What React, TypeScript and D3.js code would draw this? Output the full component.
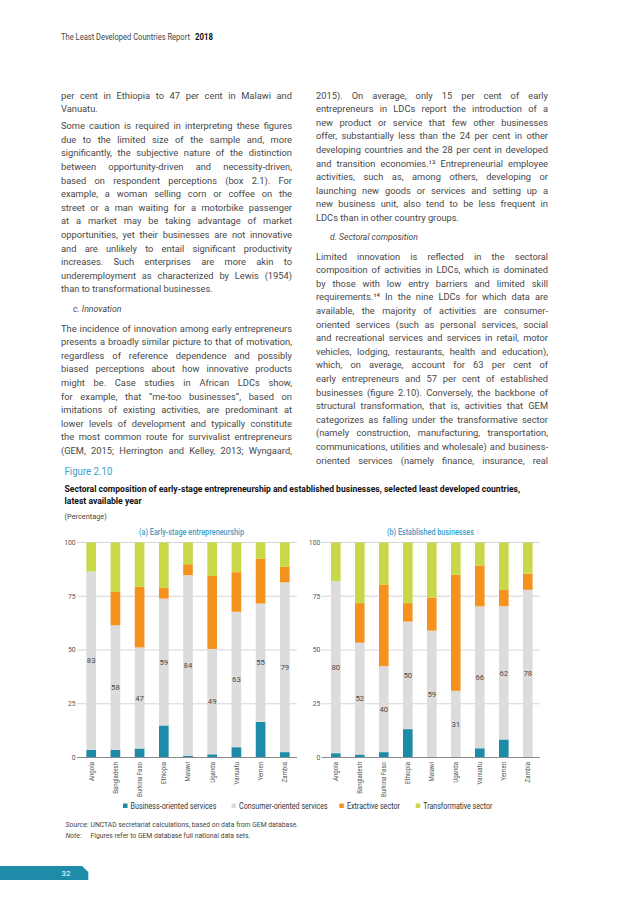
import React from "react";
import * as d3 from "d3";

// ---------- chart data ----------
const countries = ["Angola", "Bangladesh", "Burkina Faso", "Ethiopia", "Malawi", "Uganda", "Vanuatu", "Yemen", "Zambia"];
const sectorKeys = ["business", "consumer", "extractive", "transformative"];
const sectorLabels = ["Business-oriented services", "Consumer-oriented services", "Extractive sector", "Transformative sector"];
const sectorColors = ["#1e8ca8", "#dcdcdc", "#f5921e", "#c8d848"];

const earlyBusiness = [3.5, 3.5, 4.2, 14.9, 0.8, 1.5, 4.8, 16.6, 2.5];
const earlyConsumer = [83, 58, 47, 59, 84, 49, 63, 55, 79];
const earlyExtractive = [0, 15.5, 28.2, 5.0, 5.1, 33.9, 18.4, 20.8, 7.2];
const earlyTransformative = [13.5, 23.0, 20.6, 21.1, 10.1, 15.6, 13.8, 7.6, 11.3];

const estBusiness = [2.0, 1.4, 2.5, 13.2, 0, 0, 4.3, 8.4, 0];
const estConsumer = [80, 52, 40, 50, 59, 31, 66, 62, 78];
const estExtractive = [0, 18.4, 38.0, 8.6, 15.4, 54.0, 19.0, 7.5, 7.5];
const estTransformative = [18.0, 28.2, 19.5, 28.2, 25.6, 15.0, 10.7, 22.1, 14.5];

const yTicks = [0, 25, 50, 75, 100];

// ---------- page text ----------
const leftP1 = [
  "per cent in Ethiopia to 47 per cent in Malawi and",
  "Vanuatu.",
];
const leftP2 = [
  "Some caution is required in interpreting these figures",
  "due to the limited size of the sample and, more",
  "significantly, the subjective nature of the distinction",
  "between opportunity-driven and necessity-driven,",
  "based on respondent perceptions (box 2.1). For",
  "example, a woman selling corn or coffee on the",
  "street or a man waiting for a motorbike passenger",
  "at a market may be taking advantage of market",
  "opportunities, yet their businesses are not innovative",
  "and are unlikely to entail significant productivity",
  "increases. Such enterprises are more akin to",
  "underemployment as characterized by Lewis (1954)",
  "than to transformational businesses.",
];
const leftP3 = [
  "The incidence of innovation among early entrepreneurs",
  "presents a broadly similar picture to that of motivation,",
  "regardless of reference dependence and possibly",
  "biased perceptions about how innovative products",
  "might be. Case studies in African LDCs show,",
  "for example, that \u201cme-too businesses\u201d, based on",
  "imitations of existing activities, are predominant at",
  "lower levels of development and typically constitute",
  "the most common route for survivalist entrepreneurs",
  "(GEM, 2015; Herrington and Kelley, 2013; Wyngaard,",
];
const rightP1 = [
  "2015). On average, only 15 per cent of early",
  "entrepreneurs in LDCs report the introduction of a",
  "new product or service that few other businesses",
  "offer, substantially less than the 24 per cent in other",
  "developing countries and the 28 per cent in developed",
  "and transition economies.\u00b9\u00b3 Entrepreneurial employee",
  "activities, such as, among others, developing or",
  "launching new goods or services and setting up a",
  "new business unit, also tend to be less frequent in",
  "LDCs than in other country groups.",
];
const rightP2 = [
  "Limited innovation is reflected in the sectoral",
  "composition of activities in LDCs, which is dominated",
  "by those with low entry barriers and limited skill",
  "requirements.\u00b9\u2074 In the nine LDCs for which data are",
  "available, the majority of activities are consumer-",
  "oriented services (such as personal services, social",
  "and recreational services and services in retail, motor",
  "vehicles, lodging, restaurants, health and education),",
  "which, on average, account for 63 per cent of",
  "early entrepreneurs and 57 per cent of established",
  "businesses (figure 2.10). Conversely, the backbone of",
  "structural transformation, that is, activities that GEM",
  "categorizes as falling under the transformative sector",
  "(namely construction, manufacturing, transportation,",
  "communications, utilities and wholesale) and business-",
  "oriented services (namely finance, insurance, real",
];

const BODY_SIZE = 9.3;
const BODY_FONT = "Roboto";
const BODY_WEIGHT = 400;
const LINE = 13.6;
const TEAL = "#1e8ca8";
const BLUE_TITLE = "#3a9ec8";

let ctx: CanvasRenderingContext2D | null = null;
function measureFont(s: string, font: string, size: number): number {
  if (!ctx && typeof document !== "undefined") {
    ctx = document.createElement("canvas").getContext("2d");
  }
  if (!ctx) return s.length * size * 0.5;
  ctx.font = font;
  return ctx.measureText(s).width;
}
function measure(s: string): number {
  return measureFont(s, `${BODY_WEIGHT} ${BODY_SIZE}px ${BODY_FONT}`, BODY_SIZE);
}

// text compressed horizontally to a target width via a transform
function FitText({ x, y, width, size, weight = 400, italic = false, fill, children }: any) {
  const font = `${italic ? "italic " : ""}${weight} ${size}px Roboto`;
  const nat = measureFont(children, font, size);
  const sx = nat > 0 ? width / nat : 1;
  return (
    <text transform={`translate(${x},${y}) scale(${sx},1)`} fontFamily="Roboto" fontSize={size}
      fontWeight={weight} fontStyle={italic ? "italic" : "normal"} fill={fill}>{children}</text>
  );
}

function BodyLine({ text, x, y, width, justify }: { text: string; x: number; y: number; width: number; justify: boolean }) {
  if (!justify) {
    return <text x={x} y={y}>{text}</text>;
  }
  const nat = measure(text);
  const spaces = (text.match(/ /g) || []).length;
  const extra = width - nat;
  if (spaces > 0 && extra >= -spaces * 0.6) {
    return <text x={x} y={y} style={{ wordSpacing: `${extra / spaces}px` }}>{text}</text>;
  }
  return <text x={x} y={y} textLength={width} lengthAdjust="spacingAndGlyphs">{text}</text>;
}

function Paragraph({ lines, x, y0, width, lastJustified }: { lines: string[]; x: number; y0: number; width: number; lastJustified: boolean }) {
  return (
    <g>
      {lines.map((l, i) => (
        <BodyLine key={i} text={l} x={x} y={y0 + i * LINE} width={width}
          justify={i < lines.length - 1 || lastJustified} />
      ))}
    </g>
  );
}

function Panel({ values, x0, x1, title, titleX, titleW }: { values: number[][]; x0: number; x1: number; title: string; titleX: number; titleW: number }) {
  const rows = countries.map((c, i) => {
    const r: any = { country: c };
    sectorKeys.forEach((k, j) => (r[k] = values[j][i]));
    return r;
  });
  const x = d3.scaleBand<string>().domain(countries).range([x0, x1]).paddingInner(0.6).paddingOuter(0.3);
  const y = d3.scaleLinear().domain([0, 100]).range([757.5, 542.5]);
  const series = d3.stack<any>().keys(sectorKeys)(rows);
  const bw = x.bandwidth();
  return (
    <g>
      <FitText x={titleX} y={534.5} width={titleW} size={8.6} weight={500} fill={BLUE_TITLE}>{title}</FitText>
      {yTicks.map((t) => (
        <g key={t}>
          <line x1={x0 - 2} x2={x1} y1={y(t)} y2={y(t)} stroke={t === 0 ? "#8a8a8a" : "#c4c4c4"} strokeWidth={t === 0 ? 1.2 : 0.7} />
          <text x={x0 - 3.5} y={y(t)} dy="0.35em" textAnchor="end" fontFamily="Roboto" fontSize={6.8} fill="#555">{t}</text>
        </g>
      ))}
      {series.map((s, si) => (
        <g key={s.key} fill={sectorColors[si]}>
          {s.map((d: any) => (
            <rect key={d.data.country} x={x(d.data.country)} y={y(d[1])} width={bw}
              height={Math.max(0, y(d[0]) - y(d[1]))} />
          ))}
        </g>
      ))}
      <line x1={x0 - 2} x2={x1} y1={y(0)} y2={y(0)} stroke="#8a8a8a" strokeWidth={1.2} />
      {series[1].map((d: any, i: number) => (
        <text key={i} x={(x(d.data.country) as number) + bw / 2} y={y((d[0] + d[1]) / 2)} dy="0.35em"
          textAnchor="middle" fontFamily="Roboto" fontSize={7.8} fill="#4a4a4a">{values[1][i]}</text>
      ))}
      {countries.map((c) => (
        <text key={c} transform={`translate(${(x(c) as number) + bw / 2},762) rotate(-90) scale(0.87,1)`}
          dy="0.35em" textAnchor="end" fontFamily="Roboto" fontSize={7} fill="#555">{c}</text>
      ))}
    </g>
  );
}

const legendX = [123, 231.5, 339.3, 415.7];
const legendTextW = [85.7, 88.5, 53, 68.8];

export default function App() {
  return (
    <svg width={640} height={905} style={{ position: "absolute", left: 0, top: 0, background: "#fff" }}>
      <rect width={640} height={905} fill="#fff" />
      {/* header */}
      <FitText x={61} y={40} width={129} size={8.6} fill="#444">The Least Developed Countries Report</FitText>
      <FitText x={195} y={40} width={18} size={8.6} weight={700} fill="#111">2018</FitText>

      {/* body text */}
      <g fontFamily={BODY_FONT} fontSize={BODY_SIZE} fontWeight={BODY_WEIGHT} fill="#484848">
        <Paragraph lines={leftP1} x={61} y0={98.5} width={231} lastJustified={false} />
        <Paragraph lines={leftP2} x={61} y0={129.1} width={231} lastJustified={false} />
        <Paragraph lines={leftP3} x={61} y0={331.6} width={231} lastJustified={true} />
        <Paragraph lines={rightP1} x={316} y0={98.5} width={232} lastJustified={false} />
        <Paragraph lines={rightP2} x={316} y0={259.5} width={232} lastJustified={true} />
      </g>
      <FitText x={73} y={311.5} width={48.5} size={BODY_SIZE} italic fill="#484848">c. Innovation</FitText>
      <FitText x={330} y={239.5} width={88} size={BODY_SIZE} italic fill="#484848">d. Sectoral composition</FitText>

      {/* figure heading */}
      <FitText x={64.5} y={474.5} width={48} size={10.5} fill={BLUE_TITLE}>Figure 2.10</FitText>
      <FitText x={64.5} y={491.5} width={454.5} size={9.4} weight={700} fill="#111">Sectoral composition of early-stage entrepreneurship and established businesses, selected least developed countries,</FitText>
      <FitText x={64.5} y={504} width={77} size={9.4} weight={700} fill="#111">latest available year</FitText>
      <FitText x={64.5} y={518.5} width={42.4} size={8} fill="#444">(Percentage)</FitText>

      <Panel values={[earlyBusiness, earlyConsumer, earlyExtractive, earlyTransformative]} x0={79.1} x1={296.9}
        title="(a) Early-stage entrepreneurship" titleX={139} titleW={105} />
      <Panel values={[estBusiness, estConsumer, estExtractive, estTransformative]} x0={323.8} x1={539.8}
        title="(b) Established businesses" titleX={387} titleW={87} />

      {/* legend */}
      {sectorLabels.map((l, i) => (
        <g key={l}>
          <rect x={legendX[i]} y={803.5} width={4.5} height={4.5} fill={sectorColors[i]} />
          <FitText x={legendX[i] + 7.6} y={809} width={legendTextW[i]} size={8.4} fill="#333">{l}</FitText>
        </g>
      ))}

      {/* source / note */}
      <FitText x={65.5} y={827} width={23} size={7.6} italic fill="#444">Source:</FitText>
      <FitText x={90.5} y={827} width={208} size={7.6} fill="#444">UNCTAD secretariat calculations, based on data from GEM database.</FitText>
      <FitText x={65.5} y={837.5} width={16} size={7.6} italic fill="#444">Note:</FitText>
      <FitText x={90.6} y={837.5} width={160} size={7.6} fill="#444">Figures refer to GEM database full national data sets.</FitText>

      {/* page number tab */}
      <path d="M0,866 L82,866 L88.3,872 L88.3,880 L0,880 Z" fill={TEAL} />
      <text x={66} y={876.3} textAnchor="middle" fontFamily="Roboto" fontSize={8} fill="#fff">32</text>
    </svg>
  );
}
